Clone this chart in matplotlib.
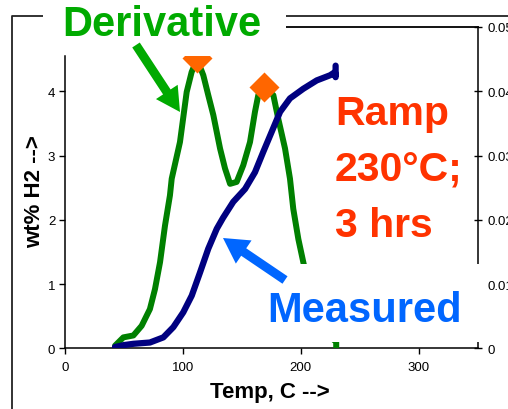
import matplotlib
matplotlib.use('Agg')
import matplotlib.pyplot as plt
from matplotlib.patches import Rectangle, FancyArrow
from matplotlib.lines import Line2D
from matplotlib.transforms import Affine2D

plt.rcParams['font.family'] = ['Liberation Sans', 'DejaVu Sans']

# measured wt% H2 vs temperature
temp_meas = [42.4, 50, 58, 72, 83.4, 91.9, 100.3, 107.5, 114.5, 121.5, 128.7, 134,
             142.7, 152.7, 161.1, 168.2, 175.3, 182.4, 190.8, 202.1, 213.5, 224.8,
             229, 229.5, 229.5]
wt_meas = [0.02, 0.05, 0.07, 0.09, 0.17, 0.33, 0.56, 0.82, 1.18, 1.55, 1.86, 2.03,
           2.28, 2.48, 2.74, 3.06, 3.37, 3.68, 3.89, 4.04, 4.17, 4.25,
           4.3, 4.22, 4.4]

# derivative (read on the left scale, right axis = left / 100)
temp_deriv = [42.4, 49.5, 58, 65, 72, 76.3, 80.6, 84.8, 89, 90.5, 97.5, 103.2,
              107.4, 112, 117.3, 121.5, 125.8, 131.5, 135.7, 140, 145.6, 151.2,
              156.9, 161.1, 163.9, 168.2, 176.7, 180.9, 186.6, 190.8, 193.6,
              197.9, 202.1, 210, 220, 230, 230]
deriv = [0.04, 0.17, 0.2, 0.35, 0.61, 0.92, 1.34, 1.91, 2.38, 2.64, 3.21, 3.99,
         4.3, 4.5, 4.25, 3.94, 3.63, 3.11, 2.8, 2.56, 2.59, 2.85,
         3.21, 3.68, 3.94, 4.07, 3.94, 3.57, 3.11, 2.64, 2.17,
         1.7, 1.34, 0.7, 0.25, 0.1, -0.1]

peak_t = [112, 168.4]
peak_v = [4.52, 4.07]

x_ticks = [0, 100, 200, 300]
y_ticks = [0, 1, 2, 3, 4]
r_ticks = [0, 0.01, 0.02, 0.03, 0.04, 0.05]
r_labels = ['0', '0.01', '0.02', '0.03', '0.04', '0.05']

W, H = 508, 410
fig = plt.figure(figsize=(W / 100, H / 100), dpi=100)
# pixel coords measured from the top-left corner
tr = Affine2D().scale(1 / W, -1 / H).translate(0, 1) + fig.transFigure

ax2 = fig.add_axes([65 / W, 1 - 349.3 / H, 412.7 / W, (349.3 - 28) / H], zorder=-1)
ax2.patch.set_visible(False)
ax2.set_xlim(0, 350)
ax2.set_ylim(0, 0.05)
ax2.spines['left'].set_visible(False)
ax2.spines['bottom'].set_visible(False)
ax2.spines['top'].set_linewidth(1.3)
ax2.spines['right'].set_linewidth(1.1)
ax2.set_xticks([])
ax2.yaxis.tick_right()
ax2.set_yticks(r_ticks)
ax2.set_yticklabels(r_labels)
ax2.tick_params(axis='y', direction='inout', length=6, width=1, labelsize=9.5, pad=4)

ax = fig.add_axes([65 / W, 1 - 349.3 / H, 412.7 / W, (349.3 - 57) / H])
ax.patch.set_visible(False)
ax.set_xlim(0, 350)
ax.set_ylim(0, 4.55)
ax.spines['top'].set_visible(False)
ax.spines['right'].set_visible(False)
for s in ['left', 'bottom']:
    ax.spines[s].set_linewidth(1.1)
ax.set_xticks(x_ticks)
ax.set_yticks(y_ticks)
ax.tick_params(direction='out', length=4, width=1, labelsize=9.5)
ax.tick_params(axis='x', pad=5)
ax.tick_params(axis='y', pad=3)

ax.plot(temp_deriv, deriv, color='#008000', lw=4.3, solid_capstyle='round',
        solid_joinstyle='round', zorder=3)
ax.plot(temp_meas, wt_meas, color='#000080', lw=4.5, solid_capstyle='round',
        solid_joinstyle='round', zorder=4)
ax.plot(peak_t, peak_v, 'D', color='#FF6600', ms=15, mec='none', zorder=5)

# outer chart frame
fig.add_artist(Line2D([12 / W, 12 / W, 1], [0, 1 - 17 / H, 1 - 17 / H],
                      transform=fig.transFigure, color='#222222', lw=1.3, zorder=2))

# white text boxes
fig.add_artist(Rectangle((43, 33), 243, -34, transform=tr, facecolor='white',
                         edgecolor='none', zorder=2.5))
fig.add_artist(Rectangle((255, 343), 228, -78, transform=tr, facecolor='white',
                         edgecolor='none', zorder=2.5))

fig.text(62 / W, 1 - 35.5 / H, 'Derivative', color='#00AA00', fontsize=30,
         fontweight='bold', va='baseline')
fig.text(267 / W, 1 - 322 / H, 'Measured', color='#0066FF', fontsize=30,
         fontweight='bold', va='baseline')
for txt, base in [('Ramp', 125), ('230°C;', 182), ('3 hrs', 237)]:
    fig.text(335 / W, 1 - base / H, txt, color='#FF3300', fontsize=29.5,
             fontweight='bold', va='baseline')

fig.text(270 / W, 1 - 398 / H, 'Temp, C -->', fontsize=16, fontweight='bold',
         ha='center', va='baseline')
fig.text(40 / W, 1 - 191.5 / H, 'wt% H2 -->', fontsize=16, fontweight='bold',
         rotation=90, rotation_mode='anchor', ha='center', va='baseline')

# arrows
fig.add_artist(FancyArrow(136, 46, 44, 67, width=9, head_width=26, head_length=24,
                          length_includes_head=True, color='#00AA00', lw=0,
                          transform=tr, zorder=6))
fig.add_artist(FancyArrow(285, 281, -62, -42, width=9, head_width=28, head_length=25,
                          length_includes_head=True, color='#0066FF', lw=0,
                          transform=tr, zorder=6))

fig.savefig('out.png', dpi=100)
